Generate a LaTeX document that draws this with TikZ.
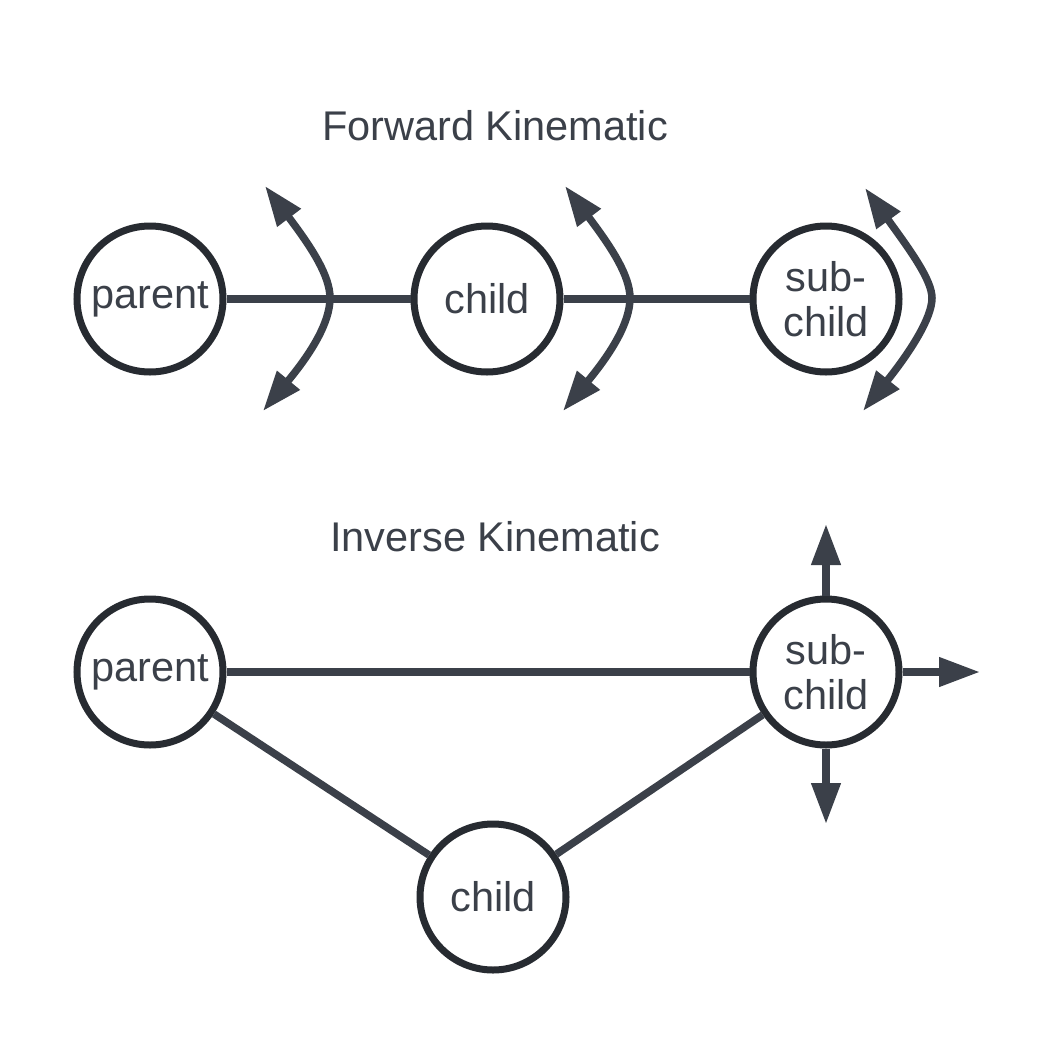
\documentclass[tikz,border=0pt]{standalone}
\usepackage{fontspec}
\setmainfont{Liberation Sans}
\usetikzlibrary{arrows.meta}
\definecolor{ln}{HTML}{3B4049}
\definecolor{cb}{HTML}{272B31}
\begin{document}
\begin{tikzpicture}[x=1pt,y=-1pt,
  joint/.style={circle, draw=cb, line width=7pt, minimum size=146pt, inner sep=0pt,
    fill=white, text=ln, font=\fontsize{41.5}{45}\selectfont, align=center},
  ttl/.style={text=ln, font=\fontsize{41.5}{45}\selectfont},
  link/.style={draw=ln, line width=7.5pt},
  rot/.style={draw=ln, line width=7.5pt, {Triangle[length=40pt,width=28pt]}-{Triangle[length=40pt,width=28pt]}},
  push/.style={draw=ln, line width=7.5pt, -{Triangle[length=41pt,width=28pt]}}]
\fill[white] (0,0) rectangle (1044,1050);
\useasboundingbox (0,0) rectangle (1044,1050);

% Forward kinematic
\node[ttl] (t1) at (495,126) {Forward Kinematic};
\node[joint] (p1) at (150,299) {parent};
\node[joint] (c1) at (487,299) {child};
\node[joint] (s1) at (826,299) {sub-\\child};
\draw[link] (p1) -- (c1);
\draw[link] (c1) -- (s1);

\coordinate (a1t) at (265,186);
\coordinate (a1m) at (330,298);
\coordinate (a1b) at (263,411);
\draw[rot] (a1t) .. controls (312,248) and (330,276) .. (a1m)
  .. controls (330,322) and (312,352) .. (a1b);
\coordinate (a2t) at (565,186);
\coordinate (a2m) at (630,298);
\coordinate (a2b) at (563,411);
\draw[rot] (a2t) .. controls (612,248) and (630,276) .. (a2m)
  .. controls (630,322) and (612,352) .. (a2b);
\coordinate (a3t) at (865,188);
\coordinate (a3m) at (932,298);
\coordinate (a3b) at (863,411);
\draw[rot] (a3t) .. controls (910,250) and (932,280) .. (a3m)
  .. controls (932,318) and (910,352) .. (a3b);

% Inverse kinematic
\node[ttl] (t2) at (495,537) {Inverse Kinematic};
\node[joint] (p2) at (150,672) {parent};
\node[joint] (c2) at (493,897) {child};
\node[joint] (s2) at (826,672) {sub-\\child};
\draw[link] (p2) -- (s2);
\draw[link] (p2) -- (c2);
\draw[link] (c2) -- (s2);

\coordinate (up) at (826,524);
\coordinate (rt) at (980,672);
\coordinate (dn) at (826,824);
\draw[push] (s2) -- (up);
\draw[push] (s2) -- (rt);
\draw[push] (s2) -- (dn);
\end{tikzpicture}
\end{document}
